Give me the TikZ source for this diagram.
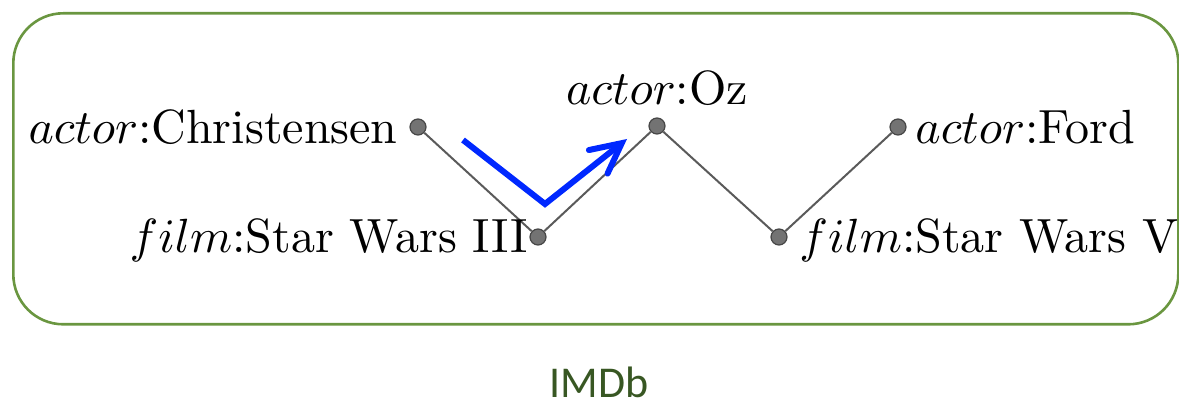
\documentclass[tikz,border=0pt]{standalone}
\usepackage{fontspec}
\newfontfamily\carl{Carlito}
\usetikzlibrary{arrows.meta}
\definecolor{boxgreen}{RGB}{106,150,64}
\definecolor{capgreen}{RGB}{56,87,35}
\definecolor{arrowblue}{RGB}{0,40,255}
\definecolor{dotfill}{RGB}{115,115,115}
\definecolor{dotedge}{RGB}{70,70,70}
\definecolor{edgegray}{RGB}{90,90,90}
\newcommand{\bigtxt}[1]{\scalebox{2.4}{\fontsize{10}{12}\selectfont #1}}
\tikzset{
  dotnode/.style={circle, fill=dotfill, draw=dotedge, line width=0.6pt, minimum size=8pt, inner sep=0pt},
  lbl/.style={inner sep=0pt},
  edgeline/.style={draw=edgegray, line width=1pt},
  walk/.style={draw=arrowblue, line width=3pt, -{Straight Barb[length=15pt,width=15pt,line cap=round]}},
  frame/.style={draw=boxgreen, line width=1.3pt, rounded corners=25pt}
}
\begin{document}
\begin{tikzpicture}[x=0.5pt,y=-0.5pt]
\useasboundingbox (0,0) rectangle (1179,405);
\node[frame, minimum width=582.5pt, minimum height=155.5pt, inner sep=0pt, anchor=north west] (box) at (12,12) {};
% vertices
\node[dotnode] (c) at (418,127) {};
\node[dotnode] (s3) at (538,237) {};
\node[dotnode] (oz) at (657,126) {};
\node[dotnode] (s5) at (779,237) {};
\node[dotnode] (f) at (898,127) {};
% edges
\draw[edgeline] (c) -- (s3);
\draw[edgeline] (s3) -- (oz);
\draw[edgeline] (oz) -- (s5);
\draw[edgeline] (s5) -- (f);
% labels
\node[lbl, anchor=base east] (lc) at (398,144) {\bigtxt{$actor$:Christensen}};
\node[lbl, anchor=base east] (ls3) at (528,253) {\bigtxt{$film$:Star Wars III}};
\node[lbl, anchor=base] (loz) at (657,105) {\bigtxt{$actor$:Oz}};
\node[lbl, anchor=base west] (lf) at (915,144) {\bigtxt{$actor$:Ford}};
\node[lbl, anchor=base west] (ls5) at (799,253) {\bigtxt{$film$:Star Wars V}};
% walk arrow
\coordinate (w1) at (463,140);
\coordinate (w2) at (545,204);
\coordinate (w3) at (627,139);
\draw[walk, miter limit=10] (w1) -- (w2) -- (w3);
% caption
\node[inner sep=0pt, anchor=base, text depth=0pt, text=capgreen, font=\carl\fontsize{22}{26}\selectfont] (cap) at (599,398) {IMDb};
\end{tikzpicture}
\end{document}
